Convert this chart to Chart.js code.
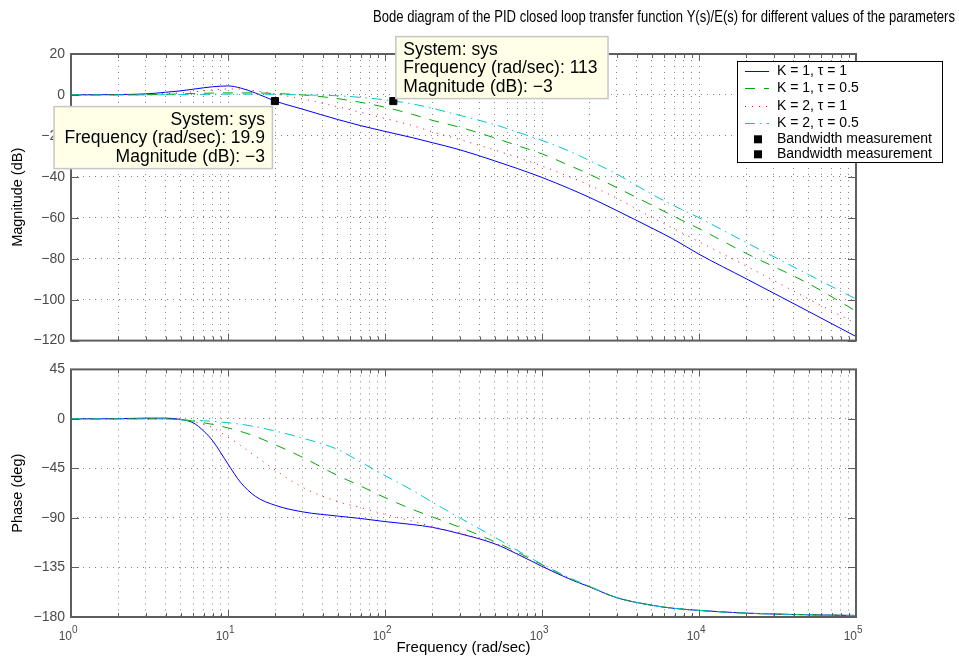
<!DOCTYPE html>
<html>
<head>
<meta charset="utf-8">
<script src="https://cdn.jsdelivr.net/npm/chart.js@4.4.0/dist/chart.umd.min.js"></script>
<style>
  html, body { margin: 0; padding: 0; background: #fff; overflow: hidden; }
  #wrap { position: relative; width: 959px; height: 664px; }
  canvas { position: absolute; left: 0; }
  #magCanvas { top: 0; }
  #phaseCanvas { top: 355px; }
</style>
</head>
<body>
<div id="wrap">
  <canvas id="magCanvas" width="959" height="355"></canvas>
  <canvas id="phaseCanvas" width="959" height="309"></canvas>
</div>
<script>
// frequency points (rad/sec) shared by the four responses
const freq = [1, 2, 3, 4, 5, 6, 7, 8, 10, 12, 15, 20, 30, 50, 70, 100, 150, 200, 300, 500,
  700, 1000, 1500, 2000, 3000, 5000, 7000, 10000, 20000, 50000, 100000];

// magnitude (dB)
const magK1T1 = [0, 0.2, 0.5, 1.3, 2.0, 2.8, 3.5, 4.0, 4.4, 3.4, 0.9, -3, -7, -12, -15, -17.8, -20.9, -23.3, -26.8, -32.2,
  -36, -40.3, -45.8, -50, -56.5, -65, -70.8, -77.8, -89.8, -105.8, -118];
const magK1T05 = [0, 0, 0.1, 0.3, 0.5, 0.7, 0.8, 0.9, 1.0, 1.0, 1.0, 0.7, 0, -1.8, -3.6, -6, -9.5, -12.4, -15.8, -21,
  -24.8, -28.8, -34.5, -38.7, -45.3, -53.8, -59.5, -65.3, -77.4, -92.2, -105.6];
const magK2T1 = [0, 0.1, 0.3, 0.6, 1.0, 1.5, 2.0, 2.4, 2.9, 2.9, 2.0, 0.5, -2, -5.8, -8.5, -11.5, -15, -18, -21.8, -26.9,
  -30.5, -34.7, -40, -44, -50.5, -59.8, -65.5, -71.7, -83.6, -99.7, -111.7];
const magK2T05 = [0, 0, 0, 0.1, 0.2, 0.3, 0.3, 0.4, 0.4, 0.4, 0.4, 0.3, 0, -0.4, -1.2, -2.4, -4.4, -6.5, -10, -14.5,
  -18.2, -22.2, -27.5, -32, -38.7, -48.5, -54.3, -60, -72.1, -87.8, -99.7];

// phase (deg)
const phK1T1 = [0, 0.2, 0.7, 0.7, -0.5, -3.5, -11, -20, -41, -57.5, -70.5, -78.5, -84.5, -88.3, -90.5, -93.3, -96, -98.5, -104.3, -113.5,
  -123, -134, -145.5, -152.5, -162.5, -169.3, -172.2, -174, -176.5, -178, -178.6];
const phK1T05 = [0, 0, 0, 0, -0.8, -2, -3.5, -5, -8.2, -11.3, -16, -23.5, -35, -51.5, -61, -71.5, -82.3, -89, -98.5, -111.5,
  -121.3, -132.5, -145, -152.3, -162.5, -169.3, -172.2, -174, -176.5, -178, -178.6];
const phK2T1 = [0, 0, 0, 0.2, -0.5, -2.5, -5, -8, -16.5, -24, -34, -46.5, -62.3, -75.1, -80.6, -86.7, -92.9, -97.8, -103.8, -112.8,
  -122.5, -133.7, -145.3, -152.4, -162.5, -169.3, -172.2, -174, -176.5, -178, -178.6];
const phK2T05 = [0, 0, 0, 0, -0.8, -1.3, -1.7, -2.2, -3.5, -4.8, -7.1, -11, -17.5, -27.8, -39.2, -51.5, -65, -75.6, -90, -107.5,
  -119.7, -132, -144.5, -152, -162.3, -169.3, -172.2, -174, -176.5, -178, -178.6];

// bandwidth (-3 dB) points
const bwFreq = [19.9, 113];
const bwMag = [-3, -3];

const seriesLabels = ['K = 1, \u03c4 = 1', 'K = 1, \u03c4 = 0.5', 'K = 2, \u03c4 = 1', 'K = 2, \u03c4 = 0.5'];
const magTicks = [20, 0, -20, -40, -60, -80, -100, -120];
const phaseTicks = [45, 0, -45, -90, -135, -180];
const decades = [1, 10, 100, 1000, 10000, 100000];

const titleText = 'Bode diagram of the PID closed loop transfer function Y(s)/E(s) for different values of the parameters';

const FONT = '"Liberation Sans", Arial, Helvetica, sans-serif';
const gridColor = 'rgba(80,80,80,0.7)';
const frameColor = '#5e5e5e';
const tickColor = '#4a4a4a';
const lineStyles = [
  { color: 'rgb(0,0,255)', dash: [] },
  { color: 'rgb(0,170,0)', dash: [10, 9] },
  { color: 'rgb(255,0,0)', dash: [1, 6] },
  { color: 'rgb(0,200,200)', dash: [10, 5, 1.5, 5] }
];

// grid positions: 1..9 in every decade
const xGrid = [];
decades.forEach(d => {
  for (let m = 1; m < 10; m++) if (m * d <= 100000) xGrid.push(m * d);
});

const minus = v => String(v).replace('-', '\u2212');
const pts = vals => freq.map((f, i) => ({ x: f, y: vals[i] }));

function strokeLine(ctx, x1, y1, x2, y2) {
  ctx.beginPath();
  ctx.moveTo(x1, y1);
  ctx.lineTo(x2, y2);
  ctx.stroke();
}

function lineSets(arrays) {
  return arrays.map((vals, i) => ({
    label: seriesLabels[i],
    data: pts(vals),
    borderColor: lineStyles[i].color,
    borderDash: lineStyles[i].dash,
    borderWidth: 1,
    pointRadius: 0,
    fill: false,
    cubicInterpolationMode: 'monotone',
    order: 4 - i
  }));
}

// MATLAB-like axes: box, inward ticks, y title and (bottom only) decade labels
const axesBox = {
  id: 'axesBox',
  afterDatasetsDraw(chart, args, opts) {
    const { ctx, chartArea: a, scales: { x, y } } = chart;
    ctx.save();
    ctx.strokeStyle = frameColor;
    ctx.lineWidth = 1;
    x.ticks.forEach(t => {
      const px = Math.round(x.getPixelForValue(t.value)) + 0.5;
      const len = decades.includes(t.value) ? 7 : 4;
      strokeLine(ctx, px, a.bottom, px, a.bottom - len);
      strokeLine(ctx, px, a.top, px, a.top + len);
    });
    y.ticks.forEach(t => {
      const py = Math.round(y.getPixelForValue(t.value)) + 0.5;
      strokeLine(ctx, a.left, py, a.left + 8, py);
      strokeLine(ctx, a.right, py, a.right - 8, py);
    });
    ctx.lineWidth = 2;
    ctx.strokeRect(a.left, a.top, a.right - a.left, a.bottom - a.top);

    ctx.fillStyle = '#000';
    if (opts.xLabels) {
      decades.forEach((d, e) => {
        const px = x.getPixelForValue(d);
        ctx.fillStyle = tickColor;
        ctx.textBaseline = 'alphabetic';
        ctx.font = '12px ' + FONT;
        ctx.textAlign = 'right';
        ctx.fillText('10', px + 1, a.bottom + 23);
        ctx.font = '10px ' + FONT;
        ctx.textAlign = 'left';
        ctx.fillText(String(e), px + 1, a.bottom + 16);
      });
      ctx.fillStyle = '#000';
      ctx.font = '15px ' + FONT;
      ctx.textAlign = 'center';
      ctx.textBaseline = 'middle';
      ctx.fillText(opts.xTitle, (a.left + a.right) / 2, a.bottom + 31);
    }

    ctx.translate(18, (a.top + a.bottom) / 2);
    ctx.rotate(-Math.PI / 2);
    ctx.fillStyle = '#000';
    ctx.font = '14.5px ' + FONT;
    ctx.textAlign = 'center';
    ctx.textBaseline = 'middle';
    ctx.fillText(opts.yTitle, 0, 0);
    ctx.restore();
  }
};

function drawTip(ctx, px, py, lines, side) {
  ctx.save();
  ctx.font = '17.5px ' + FONT;
  const w = Math.max(...lines.map(s => ctx.measureText(s).width)) + 19;
  const h = 63;
  const left = side === 'left' ? px - 2 - w : px + 2;
  const top = side === 'left' ? py + 5 : py - 2 - h;
  ctx.fillStyle = 'rgb(255,255,232)';
  ctx.fillRect(left, top, w, h);
  ctx.strokeStyle = '#c6c6c6';
  ctx.lineWidth = 1.5;
  ctx.strokeRect(left + 0.5, top + 0.5, w - 1, h - 1);
  ctx.fillStyle = '#000';
  ctx.textBaseline = 'middle';
  ctx.textAlign = side === 'left' ? 'right' : 'left';
  const tx = side === 'left' ? left + w - 8 : left + 8;
  lines.forEach((s, i) => ctx.fillText(s, tx, top + 14 + i * 18.5));
  ctx.restore();
}

// title, legend and data tips of the magnitude plot
const magOverlay = {
  id: 'magOverlay',
  afterDraw(chart) {
    const { ctx, scales: { x, y } } = chart;
    ctx.save();
    ctx.fillStyle = '#000';
    ctx.font = '17px ' + FONT;
    const tw = ctx.measureText(titleText).width;
    ctx.translate(373, 17);
    ctx.scale(582 / tw, 1);
    ctx.textAlign = 'left';
    ctx.textBaseline = 'middle';
    ctx.fillText(titleText, 0, 0);
    ctx.restore();

    // legend
    const L = { left: 737, top: 61, right: 943, bottom: 163 };
    const rows = [10, 27.3, 45, 62.3, 78.3, 93.3];
    ctx.save();
    ctx.fillStyle = '#fff';
    ctx.fillRect(L.left, L.top, L.right - L.left, L.bottom - L.top);
    ctx.strokeStyle = '#000';
    ctx.lineWidth = 1;
    ctx.strokeRect(L.left + 0.5, L.top + 0.5, L.right - L.left - 1, L.bottom - L.top - 1);
    ctx.font = '14px ' + FONT;
    ctx.textAlign = 'left';
    ctx.textBaseline = 'middle';
    chart.data.datasets.forEach((ds, i) => {
      const ry = L.top + rows[i];
      if (ds.showLine === false) {
        ctx.fillStyle = '#000';
        ctx.fillRect(754, ry - 4, 8, 8);
      } else {
        ctx.strokeStyle = ds.borderColor;
        ctx.setLineDash(ds.borderDash);
        ctx.lineWidth = 1;
        strokeLine(ctx, 745, Math.round(ry) + 0.5, 769, Math.round(ry) + 0.5);
        ctx.setLineDash([]);
      }
      ctx.fillStyle = '#000';
      ctx.fillText(ds.label, 777, ry);
    });
    ctx.restore();

    // data tips at the bandwidth points
    bwFreq.forEach((f, i) => {
      const px = x.getPixelForValue(f);
      const py = y.getPixelForValue(bwMag[i]);
      drawTip(ctx, px, py, [
        'System: sys',
        'Frequency (rad/sec): ' + f,
        'Magnitude (dB): ' + minus(bwMag[i])
      ], i === 0 ? 'left' : 'right');
    });
  }
};

function axisOptions(yMin, yMax, yTicks, xHeight, padTop) {
  return {
    responsive: false,
    animation: false,
    events: [],
    layout: { padding: { left: 0, top: padTop, right: 103, bottom: 0 } },
    plugins: {
      legend: { display: false },
      title: { display: false },
      tooltip: { enabled: false }
    },
    scales: {
      x: {
        type: 'logarithmic',
        min: 1,
        max: 100000,
        afterBuildTicks: s => { s.ticks = xGrid.map(v => ({ value: v })); },
        afterFit: s => { s.height = xHeight; },
        ticks: { display: false },
        grid: { color: gridColor, lineWidth: 1, drawTicks: false },
        border: { display: false, dash: [1, 5] }
      },
      y: {
        type: 'linear',
        min: yMin,
        max: yMax,
        afterBuildTicks: s => { s.ticks = yTicks.map(v => ({ value: v })); },
        afterFit: s => { s.width = 71; },
        ticks: {
          font: { family: FONT, size: 14 },
          color: tickColor,
          padding: 6,
          callback: v => minus(v)
        },
        grid: { color: gridColor, lineWidth: 1, drawTicks: false },
        border: { display: false, dash: [1, 5] }
      }
    }
  };
}

const magSets = lineSets([magK1T1, magK1T05, magK2T1, magK2T05]);
bwFreq.forEach((f, i) => {
  magSets.push({
    label: 'Bandwidth measurement',
    data: [{ x: f, y: bwMag[i] }],
    showLine: false,
    pointStyle: 'rect',
    pointRadius: 5,
    pointBackgroundColor: '#000',
    pointBorderColor: '#000',
    pointBorderWidth: 1,
    order: 0
  });
});

const magOpts = axisOptions(-120, 20, magTicks, 8, 54);
magOpts.plugins.axesBox = { yTitle: 'Magnitude (dB)', xLabels: false };

new Chart(document.getElementById('magCanvas'), {
  type: 'line',
  data: { datasets: magSets },
  options: magOpts,
  plugins: [axesBox, magOverlay]
});

const phaseOpts = axisOptions(-180, 45, phaseTicks, 47, 6);
phaseOpts.plugins.axesBox = { yTitle: 'Phase (deg)', xLabels: true, xTitle: 'Frequency (rad/sec)' };

new Chart(document.getElementById('phaseCanvas'), {
  type: 'line',
  data: { datasets: lineSets([phK1T1, phK1T05, phK2T1, phK2T05]) },
  options: phaseOpts,
  plugins: [axesBox]
});
</script>
</body>
</html>
